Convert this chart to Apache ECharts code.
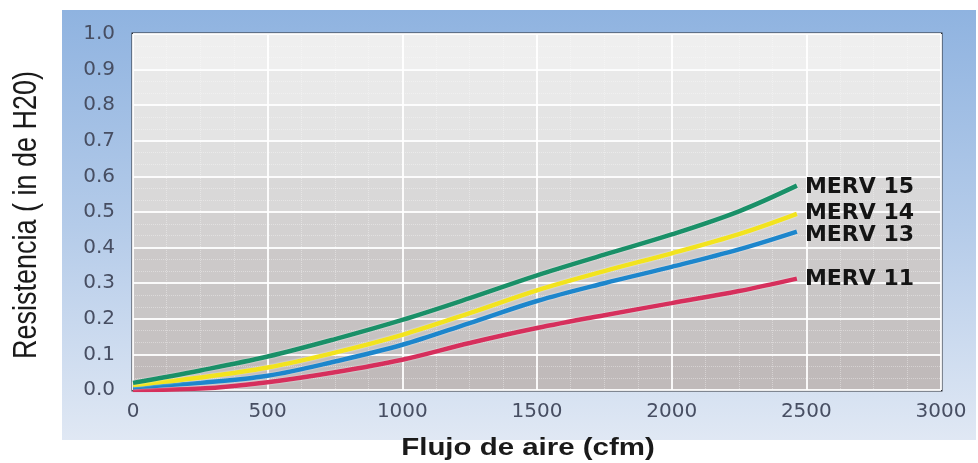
<!DOCTYPE html>
<html>
<head>
<meta charset="utf-8">
<script src="https://cdn.jsdelivr.net/npm/echarts@6/dist/echarts.min.js"></script>
<style>
html,body{margin:0;padding:0;background:#fff;}
#chart{width:978px;height:463px;}
</style>
</head>
<body>
<div id="chart"></div>
<script>
// ---- data ----
var flow = [0, 250, 500, 750, 1000, 1250, 1500, 1750, 2000, 2250, 2465];
var merv15 = [0.020, 0.055, 0.094, 0.143, 0.197, 0.258, 0.322, 0.380, 0.437, 0.502, 0.574];
var merv14 = [0.014, 0.035, 0.063, 0.105, 0.155, 0.216, 0.280, 0.334, 0.384, 0.438, 0.495];
var merv13 = [0.008, 0.020, 0.040, 0.080, 0.127, 0.188, 0.250, 0.300, 0.346, 0.395, 0.445];
var merv11 = [0.000, 0.004, 0.022, 0.050, 0.085, 0.132, 0.174, 0.210, 0.244, 0.278, 0.313];
var seriesNames = ['MERV 15', 'MERV 14', 'MERV 13', 'MERV 11'];
var xTicks = [0, 500, 1000, 1500, 2000, 2500, 3000];
var yTicks = ['0.0','0.1','0.2','0.3','0.4','0.5','0.6','0.7','0.8','0.9','1.0'];
var xTitle = 'Flujo de aire (cfm)';
var yTitle = 'Resistencia ( in de H20)';

function pairs(ys){ return ys.map(function(v,i){ return [flow[i], v]; }); }

var colors = ['#1a9068', '#f2e31e', '#1d86cc', '#d62f5c'];
var values = [merv15, merv14, merv13, merv11];
var labelOffsets = [[0, 2], [0, 0], [0, 4], [0, 1]];

var bands = ['#c0baba','#c6c2c2','#c9c6c6','#ccc9c9','#d3d1d1','#d9d8d8','#dfdfdf','#e4e4e4','#e9e9e9','#efefef'];

var chart = echarts.init(document.getElementById('chart'), null, {renderer:'canvas'});
var option = {
  backgroundColor: '#ffffff',
  animation: false,
  graphic: [
    {
      type: 'rect', z: -10, silent: true,
      shape: {x: 62, y: 10, width: 914, height: 430},
      style: {
        fill: new echarts.graphic.LinearGradient(0, 0, 0, 1, [
          {offset: 0, color: '#8fb3e0'},
          {offset: 0.5, color: '#b4cbe9'},
          {offset: 1, color: '#e0e8f4'}
        ])
      }
    },
    {
      type: 'text', silent: true,
      x: 528, y: 449, scaleX: 1.28,
      style: {
        text: xTitle, fill: '#1a1a1a',
        font: 'bold 23px "Liberation Sans", Arial, sans-serif',
        textAlign: 'center', textVerticalAlign: 'middle'
      }
    },
    {
      type: 'text', silent: true,
      x: 27, y: 215, rotation: Math.PI / 2, scaleY: 1.2,
      style: {
        text: yTitle, fill: '#1a1a1a',
        font: '27px "Liberation Sans", Arial, sans-serif',
        textAlign: 'center', textVerticalAlign: 'middle'
      }
    }
  ],
  grid: {
    left: 133, top: 34, width: 808, height: 356,
    show: true, borderColor: '#2a2c33', borderWidth: 3,
    backgroundColor: 'transparent'
  },
  xAxis: {
    type: 'value', min: 0, max: 3000, interval: 500,
    axisLine: {show: false}, axisTick: {show: false},
    axisLabel: {
      margin: 12, color: '#474e62',
      fontFamily: '"DejaVu Sans", sans-serif', fontSize: 20,
      formatter: function(v){ return xTicks.indexOf(v) >= 0 ? String(v) : ''; }
    },
    splitLine: {show: true, lineStyle: {color: 'rgba(255,255,255,0.9)', width: 2}},
    minorTick: {show: false, splitNumber: 4},
    minorSplitLine: {show: true, lineStyle: {color: 'rgba(255,255,255,0.35)', width: 1, type: 'dotted'}}
  },
  yAxis: {
    type: 'value', min: 0, max: 1, interval: 0.1,
    axisLine: {show: false}, axisTick: {show: false},
    axisLabel: {
      margin: 18, color: '#474e62',
      fontFamily: '"DejaVu Sans", sans-serif', fontSize: 20,
      formatter: function(v){ return yTicks[Math.round(v * 10)]; }
    },
    splitLine: {show: true, lineStyle: {color: 'rgba(255,255,255,0.9)', width: 2}},
    splitArea: {show: true, areaStyle: {color: bands}},
    minorTick: {show: false, splitNumber: 3},
    minorSplitLine: {show: true, lineStyle: {color: 'rgba(255,255,255,0.35)', width: 1, type: 'dotted'}}
  },
  series: seriesNames.map(function(name, i){
    return {
      name: name, type: 'line', data: pairs(values[i]),
      smooth: 0.35, showSymbol: false, symbol: 'none',
      lineStyle: {color: colors[i], width: 4.5, shadowColor: 'rgba(255,255,255,0.7)', shadowBlur: 2},
      itemStyle: {color: colors[i]},
      endLabel: {
        show: true, formatter: '{a}', distance: 8, offset: labelOffsets[i],
        color: '#141414', fontWeight: 'bold', fontSize: 22,
        fontFamily: '"DejaVu Sans", sans-serif'
      },
      z: 10 - i
    };
  })
};
chart.setOption(option);
</script>
</body>
</html>
